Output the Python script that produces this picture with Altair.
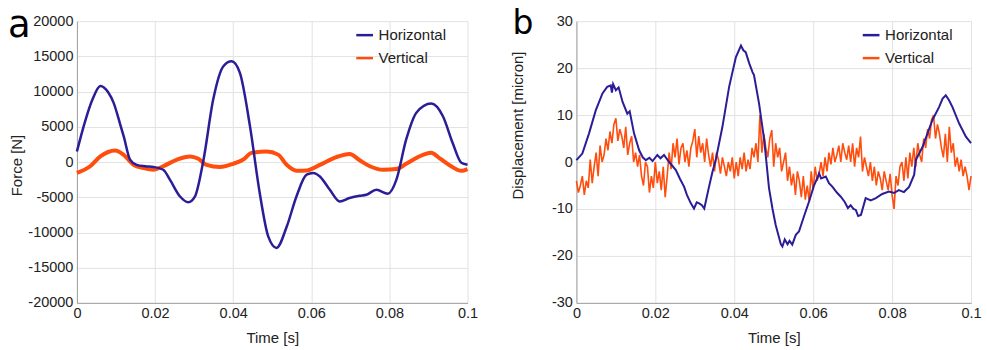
import altair as alt
import pandas as pd
import numpy as np

BLUE = "#2b1d97"
ORANGE = "#ff4d0d"
SERIES = ["Horizontal", "Vertical"]
PANEL_LABELS = ["a", "b"]

# ---- panel a: force ----
fh_t = [0, 0.002, 0.004, 0.006, 0.008, 0.0094, 0.011, 0.012, 0.0136, 0.0153, 0.0175,
        0.0196, 0.0221, 0.0238, 0.0264, 0.0285, 0.0302, 0.0324, 0.0349, 0.0375, 0.0396,
        0.0417, 0.0443, 0.0468, 0.049, 0.0511, 0.0537, 0.0562, 0.0588, 0.0605, 0.0622,
        0.0647, 0.0673, 0.0698, 0.0724, 0.0741, 0.0767, 0.0796, 0.0818, 0.0843, 0.0869,
        0.0907, 0.0937, 0.0962, 0.0984, 0.1]
fh_v = [1500, 5600, 8900, 10800, 9900, 8400, 5500, 3600, 350, -400, -600,
        -700, -1100, -2500, -4900, -5700, -4900, 300, 8900, 13600, 14300,
        12700, 5100, -4400, -10600, -12200, -9200, -4900, -1800, -1550, -2050,
        -3900, -5600, -5100, -4800, -4650, -3950, -4500, -2500, 3200, 7000,
        8300, 6500, 2700, -100, -400]

fv_t = [0, 0.0034, 0.006, 0.0098, 0.0119, 0.0145, 0.017, 0.0196, 0.0221, 0.0256, 0.029,
        0.0311, 0.0332, 0.0366, 0.04, 0.0426, 0.0447, 0.0486, 0.0515, 0.0537, 0.0562,
        0.0588, 0.0622, 0.0664, 0.0698, 0.0724, 0.075, 0.0784, 0.0818, 0.0843, 0.0873,
        0.0907, 0.0928, 0.0958, 0.0984, 0.1]
fv_v = [-1550, -600, 800, 1650, 1050, -400, -850, -1100, -600, 350, 800,
        450, -400, -700, -250, 350, 1300, 1500, 1050, -400, -1250,
        -1200, -400, 700, 1150, 250, -600, -1100, -1000, -250, 700,
        1300, 550, -600, -1250, -1000]

# ---- panel b: displacement ----
dh_t = [0, 0.0015, 0.0032, 0.0049, 0.0066, 0.0078, 0.0087, 0.009, 0.0093, 0.01, 0.0107,
        0.0117, 0.0129, 0.0135, 0.0146, 0.0159, 0.0168, 0.0176, 0.0185, 0.0193, 0.0205,
        0.0213, 0.0222, 0.0235, 0.0252, 0.0262, 0.0273, 0.028, 0.029, 0.0298, 0.0305,
        0.0311, 0.0318, 0.0324, 0.0336, 0.0345, 0.0353, 0.037, 0.0387, 0.0404, 0.0417,
        0.0423, 0.0429, 0.0438, 0.0446, 0.045, 0.0463, 0.0476, 0.0488, 0.0497, 0.0505,
        0.0518, 0.0522, 0.0528, 0.0535, 0.054, 0.0547, 0.0556, 0.0564, 0.0577, 0.059,
        0.0602, 0.0611, 0.0615, 0.062, 0.0632, 0.064, 0.0649, 0.066, 0.067, 0.068,
        0.0688, 0.0695, 0.0702, 0.0708, 0.0714, 0.0721, 0.0733, 0.0746, 0.0759, 0.0775,
        0.0792, 0.0805, 0.0817, 0.083, 0.0843, 0.0856, 0.086, 0.0877, 0.0902, 0.0919,
        0.0928, 0.0936, 0.0944, 0.0953, 0.097, 0.0987, 0.1]
dh_v = [0.4, 1.8, 6.1, 11.0, 14.6, 16.0, 16.3, 14.8, 16.6, 15.3, 15.9,
        12.8, 10.3, 10.8, 6.1, 2.5, 1.0, 0.4, 0.9, 0.2, 1.5,
        0.8, 1.5, 0.0, -1.7, -3.5, -5.3, -7.0, -8.8, -9.9, -8.6,
        -8.8, -9.2, -9.9, -5.3, -2.0, 0.4, 7.5, 16.0, 22.3, 24.8,
        23.8, 23.4, 21.0, 19.2, 18.5, 12.4, 4.6, -5.5, -10.0, -13.4,
        -17.5, -18.0, -16.5, -17.5, -16.8, -17.6, -15.5, -14.8, -11.5, -8.3,
        -5.0, -3.3, -2.4, -3.5, -3.1, -4.5, -5.3, -6.5, -7.4, -8.5,
        -9.8, -9.2, -10.0, -10.2, -11.5, -11.3, -7.7, -8.2, -7.7, -6.8,
        -6.3, -6.6, -6.0, -6.4, -5.3, -2.7, 0.4, 3.2, 8.9, 11.7,
        13.5, 14.2, 13.2, 11.7, 8.2, 5.4, 4.0]

# vertical displacement, sampled every 0.5 ms
dv_v = [-4, -6.5, -5, -3, -7, -4, -5.5, 0.5, -4.5, -1, 2,
        -3, 3.5, 0, 1.5, 5, 2.5, 6.5, 4, 8, 9.3,
        4.5, 7, 5.5, 3, 7.5, 1.5, 4, 5.5, 0, 2,
        -1, 1.5, -3, -5, 0, -1, -6.5, -3, -5.5, 0,
        -4.5, -2, -6, -1, -7.5, -3, 2, -1.5, 4, 1,
        5, -0.5, 3, 4, 0, 2.5, -1, 3, 4.5, 7,
        1, 5.5, 2, 4, 0, 5, 1.5, -1, 2, -2,
        2, 0.5, -2.5, 1, -1, -3, 0, -2, 1, -3.5,
        0, -3, 1, -1.5, 2, -2, 0.5, -1.5, 3, 1,
        4, 0, 10, 2, 6, 3, 1, 5, 6.8, -1,
        4, 1, 3, -2, 0, 2, -4, -1, -5, -2.5,
        -7, -2, -4, -7.5, -3, -8, -5, -8.5, -2, -6,
        -1, -4, -2.5, 0, -3, 1, -2, 2, -0.5, 3,
        0, 1.5, 3.5, 0, 4, 2, 0.5, 3.5, 0, 4,
        -1, 3, 1, 5.4, -2, 1, -1, -3, 0, -4,
        -1, -5, -2, -3.5, -6, -2, -4, -6, -2.5, -7,
        -10, -3, -5, -1, 0, -4, 1, -3.5, 2, -1,
        3, -1, 4, 1.5, 0, 5, 3, 7, 5, 9,
        10, 5, 8, 6, 3, 1, 6, 0, 7.5, 2,
        4, -1, 1, -2, 0.5, -3, -1, -3, -6, -3]
dv_t = list(np.round(np.arange(len(dv_v)) * 0.0005, 4))

X_TICKS = [0, 0.02, 0.04, 0.06, 0.08, 0.1]
F_TICKS = [-20000, -15000, -10000, -5000, 0, 5000, 10000, 15000, 20000]
D_TICKS = [-30, -20, -10, 0, 10, 20, 30]

FONT = "Liberation Sans"
H = 282


def df(t, v, s):
    return pd.DataFrame({"t": t, "v": v, "s": s})


def panel(h_df, v_df, ytitle, yticks, ydom, width, widths, interp, label, label_xy,
          label_size, title_xy, legend_x):
    xs = alt.X("t:Q", scale=alt.Scale(domain=[0, 0.1], nice=False),
               axis=alt.Axis(title="Time [s]", values=X_TICKS, format=".2~f",
                             labelFlush=False, labelPadding=4, titlePadding=10))
    ys = alt.Y("v:Q", scale=alt.Scale(domain=ydom, nice=False),
               axis=alt.Axis(title=ytitle, values=yticks,
                             labelExpr="toString(datum.value)", labelPadding=4,
                             titleX=title_xy[0], titleY=title_xy[1],
                             titleBaseline="middle", titleAlign="center"))
    color = alt.Color("s:N", scale=alt.Scale(domain=SERIES, range=[BLUE, ORANGE]),
                      legend=alt.Legend(title=None, orient="none", legendX=legend_x,
                                        legendY=4))
    orange = alt.Chart(v_df).mark_line(strokeWidth=widths[1], interpolate=interp).encode(
        x=xs, y=ys, color=color)
    blue = alt.Chart(h_df).mark_line(strokeWidth=widths[0], interpolate=interp).encode(
        x=xs, y=ys, color=color)
    txt = alt.Chart(pd.DataFrame({"lab": [label]})).mark_text(
        font="DejaVu Sans", fontSize=label_size, align="left", baseline="alphabetic",
        color="#000"
    ).encode(text="lab:N", x=alt.value(label_xy[0]), y=alt.value(label_xy[1]))
    return alt.layer(orange, blue, txt).properties(width=width, height=H)


left = panel(df(fh_t, fh_v, "Horizontal"), df(fv_t, fv_v, "Vertical"),
             "Force [N]", F_TICKS, [-20000, 20000], 391, (2.5, 4.0), "monotone",
             PANEL_LABELS[0], (-69, 15.5), 37, (-60, 144), 278)
right = panel(df(dh_t, dh_v, "Horizontal"), df(dv_t, dv_v, "Vertical"),
              "Displacement [micron]", D_TICKS, [-30, 30], 395, (2.0, 1.6), "linear",
              PANEL_LABELS[1], (-64, 13), 33, (-59, 104), 285)

chart = alt.hconcat(left, right, spacing=109, bounds="flush").resolve_legend(
    color="independent"
).properties(
    padding={"left": 8, "top": 6, "right": 5, "bottom": 5}
).configure_view(stroke=None).configure_axis(
    labelFont=FONT, labelFontSize=14.5, labelColor="#222",
    titleFont=FONT, titleFontSize=15, titleFontWeight="normal", titleColor="#222",
    ticks=False, domainColor="#a0a0a0", gridColor="#e2e2e2", gridWidth=1,
).configure_legend(
    labelFont=FONT, labelFontSize=15, labelColor="#222", symbolType="stroke",
    symbolSize=280, symbolStrokeWidth=2.5, rowPadding=5, labelOffset=4, padding=0,
)

chart.save("out.html", embed_options={"renderer": "svg", "actions": False})
